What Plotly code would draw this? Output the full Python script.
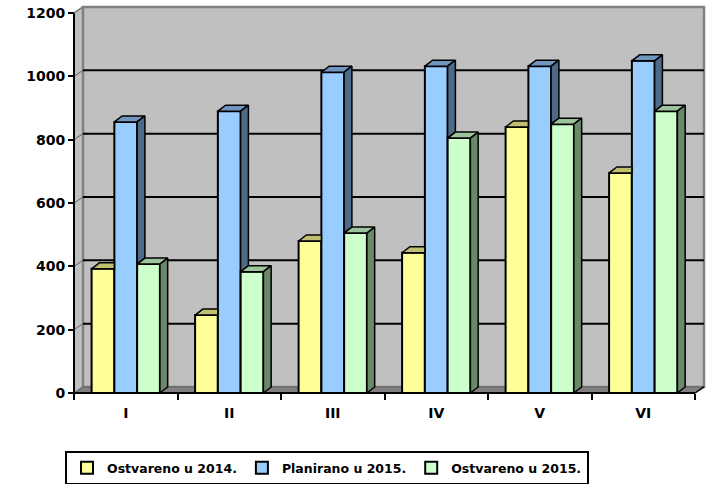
import plotly.graph_objects as go

categories = ["I", "II", "III", "IV", "V", "VI"]
series_names = ["Ostvareno u 2014.", "Planirano u 2015.", "Ostvareno u 2015."]
ostvareno_2014 = [392, 246, 480, 443, 840, 695]
planirano_2015 = [856, 890, 1013, 1032, 1032, 1049]
ostvareno_2015 = [407, 383, 505, 805, 849, 890]
y_ticks = [0, 200, 400, 600, 800, 1000, 1200]

series_values = [ostvareno_2014, planirano_2015, ostvareno_2015]
front_colors = ["#FFFF99", "#99CCFF", "#CCFFCC"]
top_colors = ["#C0C070", "#7096C0", "#9CC49C"]
side_colors = ["#808050", "#4D6A88", "#6A886A"]

# geometry (pixels)
W, H = 711, 484
x0px, y0px = 74, 393
cat_px = 103.5
val_px = (393 - 13) / 1200.0
l, r, t, b = 70, 5, 2, 87
plot_w = W - l - r
plot_h = H - t - b
xmin = -0.5 - (x0px - l) / cat_px
xmax = xmin + plot_w / cat_px
ymin = -((H - b) - y0px) / val_px
ymax = ymin + plot_h / val_px

bw = 0.22
offs = [-0.33, -0.11, 0.11]
dx, dy = 0.075, 19.0
wdx, wdy = 0.087, 19.0
n = len(categories)
xs = list(range(n))

fig = go.Figure()

# walls / floor
shapes = []
shapes.append(dict(type="path", layer="below",
                   path=f"M {-0.5},{0} L {-0.5+wdx},{wdy} L {-0.5+wdx},{1200+wdy} L {-0.5},{1200} Z",
                   fillcolor="#C0C0C0", line=dict(color="#808080", width=1.5)))
shapes.append(dict(type="rect", layer="below", x0=-0.5 + wdx, y0=wdy, x1=n - 0.5 + wdx, y1=1200 + wdy,
                   fillcolor="#C0C0C0", line=dict(color="#808080", width=2.5)))
shapes.append(dict(type="path", layer="below",
                   path=f"M {-0.5},{0} L {n-0.5},{0} L {n-0.5+wdx},{wdy} L {-0.5+wdx},{wdy} Z",
                   fillcolor="#808080", line=dict(color="#606060", width=1)))
for v in y_ticks[1:-1]:
    shapes.append(dict(type="line", layer="below", x0=-0.5 + wdx, y0=v + wdy, x1=n - 0.5 + wdx, y1=v + wdy,
                       line=dict(color="black", width=2)))
    shapes.append(dict(type="line", layer="below", x0=-0.5, y0=v, x1=-0.5 + wdx, y1=v + wdy,
                       line=dict(color="#606060", width=1)))
# axis lines
shapes.append(dict(type="line", x0=-0.5, y0=0, x1=-0.5, y1=1200, line=dict(color="black", width=2)))
shapes.append(dict(type="line", x0=-0.5, y0=1200, x1=-0.5 + wdx, y1=1200 + wdy, line=dict(color="#808080", width=1.5)))
shapes.append(dict(type="line", x0=-0.5, y0=0, x1=n - 0.5, y1=0, line=dict(color="black", width=2)))
shapes.append(dict(type="line", x0=n - 0.5, y0=0, x1=n - 0.5 + wdx, y1=wdy, line=dict(color="black", width=1.5)))

# front faces as bars
for i, (name, vals) in enumerate(zip(series_names, series_values)):
    fig.add_trace(go.Bar(x=xs, y=vals, name=name, offset=offs[i], width=bw,
                         marker=dict(color=front_colors[i], line=dict(color="black", width=2)),
                         hoverinfo="y"))

# 3D top and side faces derived from the data
for i, vals in enumerate(series_values):
    tx, ty, sx, sy = [], [], [], []
    for j in range(n):
        v = vals[j]
        lft = j + offs[i]
        rgt = lft + bw
        nv = series_values[i + 1][j] if i < len(series_values) - 1 else None
        if nv is not None and nv >= v:
            poly = [(lft, v), (rgt, v), (rgt, v + dy), (lft + dx, v + dy)]
            tx += [p[0] for p in poly] + [lft, None]
            ty += [p[1] for p in poly] + [v, None]
        else:
            poly = [(lft, v), (rgt, v), (rgt + dx, v + dy), (lft + dx, v + dy)]
            tx += [p[0] for p in poly] + [lft, None]
            ty += [p[1] for p in poly] + [v, None]
            bottom = nv if nv is not None else 0
            spoly = [(rgt, bottom), (rgt + dx, bottom + dy), (rgt + dx, v + dy), (rgt, v)]
            sx += [p[0] for p in spoly] + [rgt, None]
            sy += [p[1] for p in spoly] + [bottom, None]
    fig.add_trace(go.Scatter(x=tx, y=ty, mode="lines", fill="toself", fillcolor=top_colors[i],
                             line=dict(color="black", width=1.5), showlegend=False, hoverinfo="skip"))
    if sx:
        fig.add_trace(go.Scatter(x=sx, y=sy, mode="lines", fill="toself", fillcolor=side_colors[i],
                                 line=dict(color="black", width=1.5), showlegend=False, hoverinfo="skip"))

font_bold = dict(family="DejaVu Sans", size=14, color="black", weight="bold")

fig.update_layout(
    width=W, height=H,
    margin=dict(l=l, r=r, t=t, b=b, pad=0, autoexpand=False),
    paper_bgcolor="white", plot_bgcolor="white",
    barmode="overlay",
    shapes=shapes,
    showlegend=True,
    legend=dict(orientation="h", xref="container", yref="container",
                x=65 / W, y=1 - 451 / H,
                xanchor="left", yanchor="top", bordercolor="black", borderwidth=2,
                bgcolor="white", font=dict(family="DejaVu Sans", size=12.5, color="black", weight="bold"),
                traceorder="normal", itemclick=False, itemwidth=30),
    xaxis=dict(range=[xmin, xmax], tickvals=xs, ticktext=categories, ticks="",
               showgrid=False, zeroline=False, showline=False, automargin=False,
               anchor="free", position=((H - b) - y0px) / plot_h,
               tickfont=font_bold, ticklabelstandoff=10,
               minor=dict(tickvals=[k - 0.5 for k in range(n + 1)], ticks="outside",
                          ticklen=6, tickwidth=2, tickcolor="black", showgrid=False)),
    yaxis=dict(range=[ymin, ymax], tickvals=y_ticks, ticks="outside", ticklen=6, tickwidth=2,
               tickcolor="black", showgrid=False, zeroline=False, showline=False, automargin=False,
               anchor="free", position=(x0px - l) / plot_w, tickfont=font_bold),
)

fig.write_html("out.html", config={"displayModeBar": False},
               post_script="document.body.style.margin='0px';")
